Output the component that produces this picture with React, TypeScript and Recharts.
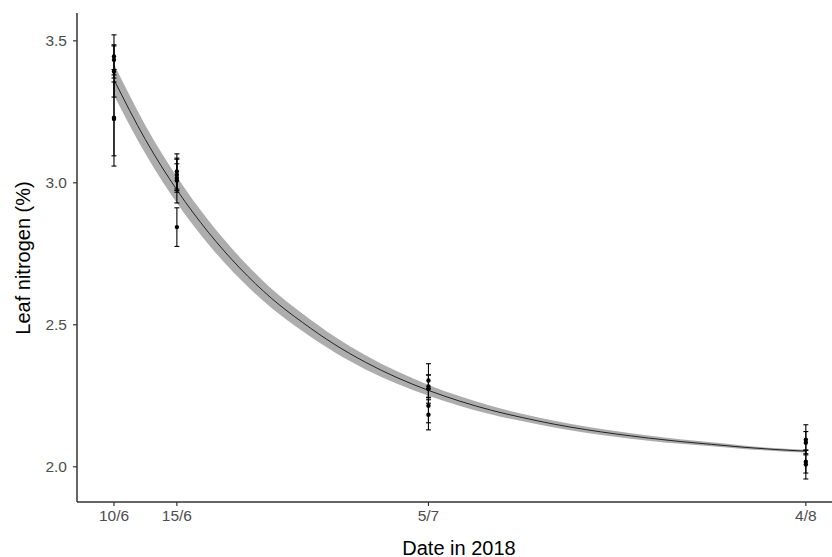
import {
  ComposedChart, Line, Area, Scatter, ErrorBar, XAxis, YAxis,
} from 'recharts'

/* ---------- data ---------- */
// fitted curve + grey ribbon, x = days since 10 June 2018
const curveDays = [0, 2.5, 5, 7.5, 10, 12.5, 15, 17.5, 20, 22.5, 25, 27.5, 30, 32.5, 35, 37.5, 40, 42.5, 45, 47.5, 50, 52.5, 55]
const curveFit = [3.363, 3.152, 2.975, 2.826, 2.7, 2.594, 2.508, 2.432, 2.368, 2.314, 2.269, 2.231, 2.199, 2.173, 2.15, 2.131, 2.115, 2.101, 2.089, 2.079, 2.069, 2.061, 2.055]
const bandLow = [3.308, 3.102, 2.929, 2.784, 2.662, 2.56, 2.477, 2.404, 2.343, 2.292, 2.25, 2.214, 2.184, 2.16, 2.138, 2.12, 2.105, 2.092, 2.081, 2.072, 2.063, 2.056, 2.05]
const bandHigh = [3.418, 3.202, 3.021, 2.868, 2.738, 2.628, 2.539, 2.46, 2.393, 2.336, 2.288, 2.248, 2.214, 2.186, 2.162, 2.142, 2.125, 2.11, 2.097, 2.086, 2.075, 2.066, 2.06]

// replicate means with their error bars (low / high ends)
const obsDays = [0, 0, 0, 0, 0, 5, 5, 5, 5, 5, 25, 25, 25, 25, 25, 55, 55, 55, 55]
const obsN = [3.445, 3.433, 3.392, 3.229, 3.225, 3.04, 3.028, 3.017, 3.008, 2.844, 2.304, 2.283, 2.274, 2.215, 2.183, 2.095, 2.085, 2.018, 2.008]
const obsLow = [3.369, 3.38, 3.302, 3.059, 3.095, 2.978, 2.973, 2.967, 2.929, 2.776, 2.245, 2.243, 2.224, 2.155, 2.13, 2.042, 2.046, 1.978, 1.957]
const obsHigh = [3.521, 3.486, 3.482, 3.399, 3.355, 3.102, 3.083, 3.067, 3.087, 2.912, 2.363, 2.323, 2.324, 2.275, 2.236, 2.148, 2.124, 2.058, 2.059]

const xTickDays = [0, 5, 25, 55]
const xTickLabels = ['10/6', '15/6', '5/7', '4/8']
const yTicks = [2.0, 2.5, 3.0, 3.5]

const curve = curveDays.map((d, i) => ({ day: d, fit: curveFit[i], band: [bandLow[i], bandHigh[i]] }))
const obs = obsDays.map((d, i) => ({ day: d, n: obsN[i], err: [obsN[i] - obsLow[i], obsHigh[i] - obsN[i]] }))

const FONT = '"Liberation Sans", Arial, sans-serif'
const tick = { fill: '#4d4d4d', fontSize: 15.5, fontFamily: FONT }

export default function App() {
  return (
    <div style={{ position: 'absolute', left: 0, top: 0, width: 832, height: 557, overflow: 'hidden', background: '#fff', fontFamily: FONT }}>
      <ComposedChart width={832} height={557} data={curve} margin={{ top: 13, right: 0, bottom: 0, left: 0 }}>
        <XAxis
          dataKey="day" type="number" domain={[-2.94, 57.08]} allowDataOverflow
          ticks={xTickDays} tickFormatter={(v) => xTickLabels[xTickDays.indexOf(v)] ?? ''}
          height={55} tick={tick} tickSize={4} tickMargin={4}
          axisLine={{ stroke: '#333', strokeWidth: 1.5 }} tickLine={{ stroke: '#333', strokeWidth: 1.2 }}
        />
        <YAxis
          type="number" domain={[1.876, 3.598]} allowDataOverflow
          ticks={yTicks} tickFormatter={(v) => Number(v).toFixed(1)}
          width={77} tick={tick} tickSize={4} tickMargin={6}
          axisLine={{ stroke: '#333', strokeWidth: 1.5 }} tickLine={{ stroke: '#333', strokeWidth: 1.2 }}
        />
        <Area dataKey="band" type="monotone" stroke="none" fill="#adadad" fillOpacity={1} isAnimationActive={false} />
        <Line dataKey="fit" type="monotone" stroke="#222" strokeWidth={1} dot={false} activeDot={false} isAnimationActive={false} />
        <Scatter
          data={obs} dataKey="n" isAnimationActive={false}
          shape={(p: any) => <circle cx={p.cx} cy={p.cy} r={2.2} fill="#000" />}
        >
          <ErrorBar dataKey="err" direction="y" width={2.5} stroke="#000" strokeWidth={1.1} isAnimationActive={false} />
        </Scatter>
      </ComposedChart>
      <div style={{ position: 'absolute', left: 459, top: 548, transform: 'translate(-50%, -50%)', fontSize: 20, color: '#000', whiteSpace: 'nowrap' }}>
        Date in 2018
      </div>
      <div style={{ position: 'absolute', left: 23, top: 258, transform: 'translate(-50%, -50%) rotate(-90deg)', fontSize: 20, color: '#000', whiteSpace: 'nowrap' }}>
        Leaf nitrogen (%)
      </div>
    </div>
  )
}
